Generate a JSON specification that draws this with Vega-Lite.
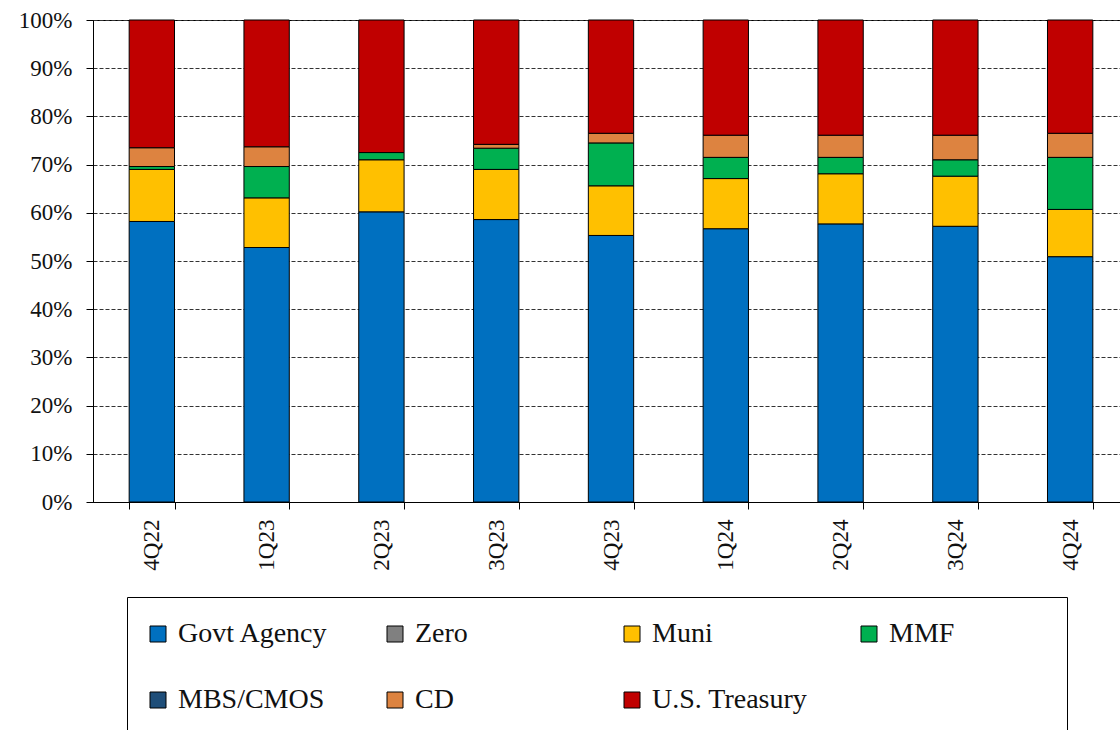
{
  "$schema": "https://vega.github.io/schema/vega-lite/v6.json",
  "autosize": "none",
  "padding": {"left": 93, "top": 20, "right": 0, "bottom": 228},
  "width": 1036,
  "height": 482,
  "background": "white",
  "config": {
    "font": "Liberation Serif",
    "view": {"stroke": "black", "strokeWidth": 1},
    "axis": {"labelFont": "Liberation Serif", "labelColor": "#111", "domainColor": "black", "tickColor": "black"}
  },
  "data": {
    "values": [
      {"quarter": "4Q22", "type": "Govt Agency", "value": 58.2, "rank": 1},
      {"quarter": "4Q22", "type": "Muni", "value": 10.8, "rank": 4},
      {"quarter": "4Q22", "type": "MMF", "value": 0.6, "rank": 5},
      {"quarter": "4Q22", "type": "CD", "value": 3.9, "rank": 6},
      {"quarter": "4Q22", "type": "U.S. Treasury", "value": 26.5, "rank": 7},
      {"quarter": "1Q23", "type": "Govt Agency", "value": 52.8, "rank": 1},
      {"quarter": "1Q23", "type": "Muni", "value": 10.3, "rank": 4},
      {"quarter": "1Q23", "type": "MMF", "value": 6.5, "rank": 5},
      {"quarter": "1Q23", "type": "CD", "value": 4.1, "rank": 6},
      {"quarter": "1Q23", "type": "U.S. Treasury", "value": 26.3, "rank": 7},
      {"quarter": "2Q23", "type": "Govt Agency", "value": 60.2, "rank": 1},
      {"quarter": "2Q23", "type": "Muni", "value": 10.8, "rank": 4},
      {"quarter": "2Q23", "type": "MMF", "value": 1.5, "rank": 5},
      {"quarter": "2Q23", "type": "U.S. Treasury", "value": 27.5, "rank": 7},
      {"quarter": "3Q23", "type": "Govt Agency", "value": 58.6, "rank": 1},
      {"quarter": "3Q23", "type": "Muni", "value": 10.4, "rank": 4},
      {"quarter": "3Q23", "type": "MMF", "value": 4.4, "rank": 5},
      {"quarter": "3Q23", "type": "CD", "value": 0.8, "rank": 6},
      {"quarter": "3Q23", "type": "U.S. Treasury", "value": 25.8, "rank": 7},
      {"quarter": "4Q23", "type": "Govt Agency", "value": 55.3, "rank": 1},
      {"quarter": "4Q23", "type": "Muni", "value": 10.3, "rank": 4},
      {"quarter": "4Q23", "type": "MMF", "value": 8.9, "rank": 5},
      {"quarter": "4Q23", "type": "CD", "value": 2.0, "rank": 6},
      {"quarter": "4Q23", "type": "U.S. Treasury", "value": 23.5, "rank": 7},
      {"quarter": "1Q24", "type": "Govt Agency", "value": 56.7, "rank": 1},
      {"quarter": "1Q24", "type": "Muni", "value": 10.4, "rank": 4},
      {"quarter": "1Q24", "type": "MMF", "value": 4.4, "rank": 5},
      {"quarter": "1Q24", "type": "CD", "value": 4.6, "rank": 6},
      {"quarter": "1Q24", "type": "U.S. Treasury", "value": 23.9, "rank": 7},
      {"quarter": "2Q24", "type": "Govt Agency", "value": 57.7, "rank": 1},
      {"quarter": "2Q24", "type": "Muni", "value": 10.4, "rank": 4},
      {"quarter": "2Q24", "type": "MMF", "value": 3.4, "rank": 5},
      {"quarter": "2Q24", "type": "CD", "value": 4.6, "rank": 6},
      {"quarter": "2Q24", "type": "U.S. Treasury", "value": 23.9, "rank": 7},
      {"quarter": "3Q24", "type": "Govt Agency", "value": 57.2, "rank": 1},
      {"quarter": "3Q24", "type": "Muni", "value": 10.4, "rank": 4},
      {"quarter": "3Q24", "type": "MMF", "value": 3.4, "rank": 5},
      {"quarter": "3Q24", "type": "CD", "value": 5.1, "rank": 6},
      {"quarter": "3Q24", "type": "U.S. Treasury", "value": 23.9, "rank": 7},
      {"quarter": "4Q24", "type": "Govt Agency", "value": 50.9, "rank": 1},
      {"quarter": "4Q24", "type": "Muni", "value": 9.8, "rank": 4},
      {"quarter": "4Q24", "type": "MMF", "value": 10.8, "rank": 5},
      {"quarter": "4Q24", "type": "CD", "value": 5.0, "rank": 6},
      {"quarter": "4Q24", "type": "U.S. Treasury", "value": 23.5, "rank": 7}
    ]
  },
  "mark": {"type": "bar", "stroke": "black", "strokeWidth": 1},
  "encoding": {
    "x": {
      "field": "quarter",
      "type": "nominal",
      "sort": ["4Q22", "1Q23", "2Q23", "3Q23", "4Q23", "1Q24", "2Q24", "3Q24", "4Q24"],
      "scale": {"paddingInner": 0.605, "paddingOuter": 0.315},
      "axis": {
        "title": null,
        "labelAngle": 270,
        "labelAlign": "right",
        "labelBaseline": "middle",
        "labelFontSize": 23,
        "labelPadding": 10,
        "tickBand": "extent",
        "tickSize": 7,
        "domainColor": "black",
        "grid": false
      }
    },
    "y": {
      "field": "value",
      "type": "quantitative",
      "stack": "zero",
      "scale": {"domain": [0, 100]},
      "axis": {
        "title": null,
        "values": [0, 10, 20, 30, 40, 50, 60, 70, 80, 90, 100],
        "labelExpr": "datum.value + '%'",
        "labelFontSize": 23,
        "labelPadding": 14,
        "tickSize": 7,
        "grid": true,
        "gridColor": "#333",
        "gridDash": [4, 2],
        "gridWidth": 1
      }
    },
    "color": {
      "field": "type",
      "type": "nominal",
      "scale": {
        "domain": ["Govt Agency", "Zero", "Muni", "MMF", "MBS/CMOS", "CD", "U.S. Treasury"],
        "range": ["#0070C0", "#808080", "#FFC000", "#00B050", "#1F4E79", "#DD8340", "#C00000"]
      },
      "legend": {
        "title": " ",
        "titleOrient": "right",
        "titlePadding": 90,
        "titleFontSize": 10,
        "orient": "none",
        "legendX": 34,
        "legendY": 577,
        "direction": "horizontal",
        "columns": 4,
        "gridAlign": "all",
        "columnPadding": 51,
        "rowPadding": 38,
        "padding": 23,
        "strokeColor": "black",
        "symbolType": "square",
        "symbolSize": 256,
        "symbolOffset": -6,
        "symbolStrokeColor": "black",
        "symbolStrokeWidth": 1,
        "symbolOpacity": 1,
        "labelFont": "Liberation Serif",
        "labelFontSize": 28,
        "labelColor": "#111",
        "labelOffset": 6,
        "labelLimit": 300
      }
    },
    "order": {"field": "rank", "type": "quantitative"}
  }
}
